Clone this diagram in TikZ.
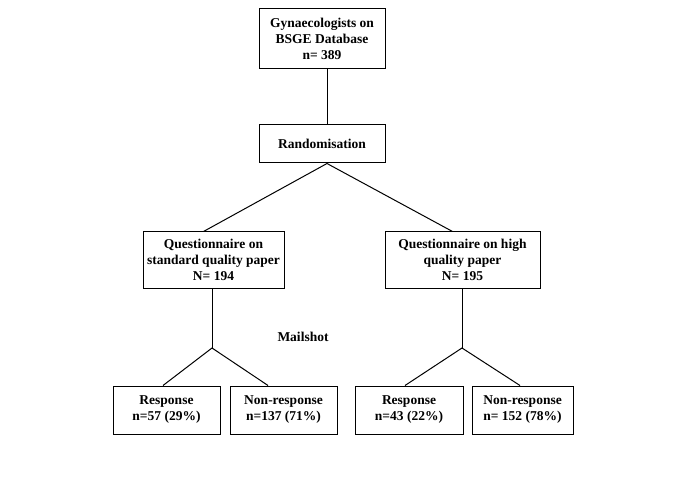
\documentclass[tikz,border=0pt]{standalone}
\usepackage{fontspec}
\setmainfont{Liberation Serif}
\begin{document}
\begin{tikzpicture}[x=1pt,y=-1pt,
  box/.style={draw,line width=1pt,inner sep=0pt,align=center,font=\bfseries\fontsize{13.5}{16}\selectfont},
  conn/.style={line width=1pt}]
\useasboundingbox (0,0) rectangle (685,494);
\node[box,minimum width=126,minimum height=60] (top) at (322,39) {Gynaecologists on\\BSGE Database\\n= 389};
\node[box,minimum width=126,minimum height=38] (rand) at (322,144) {Randomisation};
\node[box,minimum width=141,minimum height=56] (std) at (213.5,260) {Questionnaire on\\standard quality paper\\N= 194};
\node[box,minimum width=155,minimum height=56] (high) at (462.5,260) {Questionnaire on high\\quality paper\\N= 195};
\node[box,minimum width=107,minimum height=48] (r1) at (166.5,410) {Response\\n=57 (29\%)};
\node[box,minimum width=107,minimum height=48] (n1) at (283.5,410) {Non-response\\n=137 (71\%)};
\node[box,minimum width=108,minimum height=48] (r2) at (409,410) {Response\\n=43 (22\%)};
\node[box,minimum width=101,minimum height=48] (n2) at (522.5,410) {Non-response\\n= 152 (78\%)};
\node[font=\bfseries\fontsize{13.5}{16}\selectfont] (mail) at (303,337) {Mailshot};
\coordinate (sa) at (212,348);
\coordinate (ha) at (462,348);
\draw[conn] ([xshift=5pt]top.south) -- ([xshift=5pt]rand.north);
\draw[conn] ([xshift=-10pt]std.north) -- ([xshift=5pt]rand.south) -- ([xshift=-10pt]high.north);
\draw[conn] ([xshift=-1.5pt]std.south) -- (sa);
\draw[conn] ([xshift=-0.5pt]high.south) -- (ha);
\draw[conn] ([xshift=-3.5pt]r1.north) -- (sa) -- ([xshift=-15.5pt]n1.north);
\draw[conn] ([xshift=-4pt]r2.north) -- (ha) -- ([xshift=-2.5pt]n2.north);
\end{tikzpicture}
\end{document}
